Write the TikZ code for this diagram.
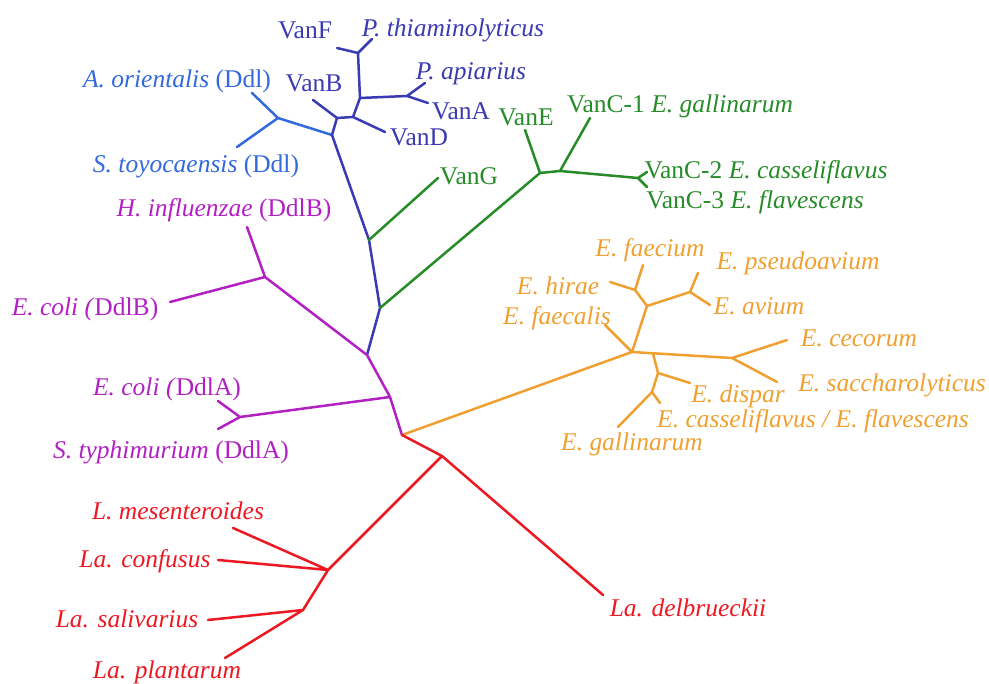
\documentclass[tikz,border=0pt]{standalone}
\usepackage{fontspec}
\setmainfont{Liberation Serif}
\definecolor{vanblue}{RGB}{58,58,178}
\definecolor{ddlblue}{RGB}{50,105,220}
\definecolor{ddlpurple}{RGB}{178,32,196}
\definecolor{vangreen}{RGB}{38,140,40}
\definecolor{entorange}{RGB}{240,160,48}
\definecolor{lacred}{RGB}{236,24,34}
\begin{document}
\begin{tikzpicture}[x=1pt,y=-1pt,
  br/.style={line width=2.5pt,line cap=round,line join=round},
  lab/.style={anchor=base,inner sep=0pt,font=\fontsize{25.5}{27}\selectfont},
  ]
\useasboundingbox (0,0) rectangle (989,684);
% ---------- coordinates ----------
% blue (Van) clade
\coordinate (bF) at (358,53);
\coordinate (lVanF) at (337,48);
\coordinate (lPthia) at (372,39);
\coordinate (bA) at (360,98);
\coordinate (bAp) at (407,96);
\coordinate (lPapi) at (425,83);
\coordinate (lVanA) at (428,103);
\coordinate (bD) at (353,117);
\coordinate (lVanD) at (385,132);
\coordinate (bB) at (337,118);
\coordinate (lVanB) at (313,100);
\coordinate (bO) at (332,135);
\coordinate (oJ) at (278,118);
\coordinate (lAori) at (252,93);
\coordinate (lStoy) at (237,147);
\coordinate (g1) at (369,240);
\coordinate (g2) at (380,308);
\coordinate (p0) at (367,355);
% green
\coordinate (lVanG) at (438,178);
\coordinate (gJ) at (540,173);
\coordinate (lVanE) at (525,130);
\coordinate (gC) at (560,171);
\coordinate (lVanC1) at (590,118);
\coordinate (gC23) at (638,178);
\coordinate (lVanC2) at (647,172);
\coordinate (lVanC3) at (647,187);
% purple
\coordinate (pH) at (265,277);
\coordinate (lHinf) at (247,227);
\coordinate (lEcoliB) at (170,302);
\coordinate (p1) at (390,397);
\coordinate (pA) at (240,417);
\coordinate (lEcoliA) at (218,401);
\coordinate (lStyph) at (218,429);
\coordinate (c) at (402,435);
% orange
\coordinate (o0) at (632,352);
\coordinate (lEfaecalis) at (605,325);
\coordinate (o1) at (647,306);
\coordinate (oH) at (635,290);
\coordinate (lEhirae) at (610,282);
\coordinate (lEfaecium) at (643,265);
\coordinate (oAv) at (690,292);
\coordinate (lPseudo) at (698,273);
\coordinate (lAvium) at (710,305);
\coordinate (oS) at (653,353.3);
\coordinate (oCS) at (732,358);
\coordinate (lCecorum) at (787,340);
\coordinate (lSacch) at (777,382);
\coordinate (oD) at (658,373);
\coordinate (lDispar) at (690,383);
\coordinate (oG) at (652,392);
\coordinate (lCass) at (660,403);
\coordinate (lGall) at (618,427);
% red
\coordinate (r0) at (442,456);
\coordinate (lDelb) at (603,595);
\coordinate (r1) at (328,570);
\coordinate (lMes) at (233,528);
\coordinate (lConf) at (218,560);
\coordinate (r2) at (303,610);
\coordinate (lSal) at (208,620);
\coordinate (lPlan) at (225,658);
% ---------- branches ----------
\draw[br,ddlblue] (lAori) -- (oJ) -- (lStoy) (oJ) -- (bO);
\draw[br,vanblue] (lVanF) -- (bF) -- (lPthia) (bF) -- (bA) -- (bD) -- (bB) -- (bO)
  (bA) -- (bAp) (lPapi) -- (bAp) -- (lVanA) (bD) -- (lVanD) (bB) -- (lVanB)
  (bO) -- (g1) -- (g2) -- (p0);
\draw[br,vangreen] (g1) -- (lVanG) (g2) -- (gJ) -- (gC) -- (gC23)
  (gJ) -- (lVanE) (gC) -- (lVanC1) (lVanC2) -- (gC23) -- (lVanC3);
\draw[br,ddlpurple] (lHinf) -- (pH) -- (lEcoliB) (pH) -- (p0) -- (p1) -- (c)
  (p1) -- (pA) (lEcoliA) -- (pA) -- (lStyph);
\draw[br,entorange] (c) -- (o0) -- (lEfaecalis) (o0) -- (o1) -- (oH)
  (lEhirae) -- (oH) -- (lEfaecium) (o1) -- (oAv) (lPseudo) -- (oAv) -- (lAvium)
  (o0) -- (oS) -- (oCS) (lCecorum) -- (oCS) -- (lSacch)
  (oS) -- (oD) -- (lDispar) (oD) -- (oG) (lCass) -- (oG) -- (lGall);
\draw[br,lacred] (c) -- (r0) -- (lDelb) (r0) -- (r1) (lMes) -- (r1) -- (lConf)
  (r1) -- (r2) (lSal) -- (r2) -- (lPlan);
% ---------- labels ----------
\begin{scope}[every node/.style={lab,text=vanblue}]
\node (tVanF) at (305,39) {VanF};
\node (tPthia) at (453,37) {\textit{P. thiaminolyticus}};
\node (tPapi) at (471,80) {\textit{P. apiarius}};
\node (tVanA) at (461,120) {VanA};
\node (tVanD) at (419,146) {VanD};
\node (tVanB) at (314,92) {VanB};
\end{scope}
\begin{scope}[every node/.style={lab,text=ddlblue}]
\node (tAori) at (177,88) {\textit{A. orientalis} (Ddl)};
\node (tStoy) at (196,173) {\textit{S. toyocaensis} (Ddl)};
\end{scope}
\begin{scope}[every node/.style={lab,text=ddlpurple}]
\node (tHinf) at (224,217) {\textit{H. influenzae} (DdlB)};
\node (tEcoliB) at (85,316) {\textit{E. coli (}DdlB)};
\node (tEcoliA) at (167,396) {\textit{E. coli (}DdlA)};
\node (tStyph) at (171,459) {\textit{S. typhimurium} (DdlA)};
\end{scope}
\begin{scope}[every node/.style={lab,text=vangreen}]
\node (tVanG) at (469,185) {VanG};
\node (tVanE) at (526,126) {VanE};
\node (tVanC1) at (680,113) {VanC-1 \textit{E. gallinarum}};
\node (tVanC2) at (766,179) {VanC-2 \textit{E. casseliflavus}};
\node (tVanC3) at (755,209) {VanC-3 \textit{E. flavescens}};
\end{scope}
\begin{scope}[every node/.style={lab,text=entorange,font=\fontsize{25.5}{27}\selectfont\itshape}]
\node (tEfaecium) at (650,257) {E. faecium};
\node (tPseudo) at (798,270) {E. pseudoavium};
\node (tEhirae) at (558,295) {E. hirae};
\node (tAvium) at (759,315) {E. avium};
\node (tEfaecalis) at (557,325) {E. faecalis};
\node (tCecorum) at (859,347) {E. cecorum};
\node (tSacch) at (892,392) {E. saccharolyticus};
\node (tDispar) at (738,403) {E. dispar};
\node (tCass) at (813,428) {E. casseliflavus / E. flavescens};
\node (tGall) at (632,451) {E. gallinarum};
\end{scope}
\begin{scope}[every node/.style={lab,text=lacred,font=\fontsize{25.5}{27}\selectfont\itshape}]
\node (tMes) at (178,520) {L. mesenteroides};
\node (tConf) at (145,568) {La. confusus};
\node (tSal) at (127,627) {La. salivarius};
\node (tPlan) at (167,678) {La. plantarum};
\node (tDelb) at (688,616) {La. delbrueckii};
\end{scope}
\end{tikzpicture}
\end{document}
